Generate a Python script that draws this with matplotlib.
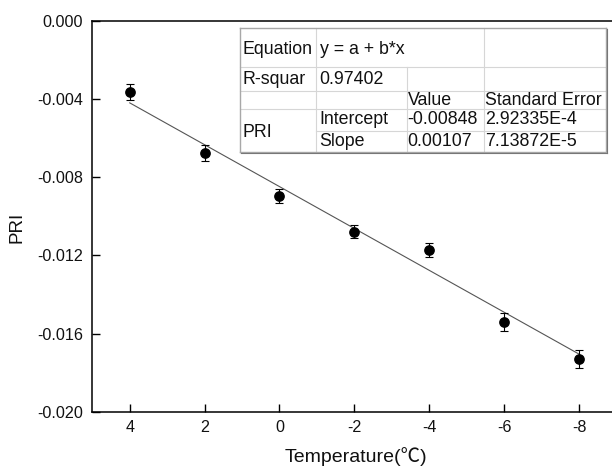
import numpy as np
import matplotlib
matplotlib.use("Agg")
import matplotlib.pyplot as plt
from matplotlib.lines import Line2D

# ---- data ----
temperature = [4, 2, 0, -2, -4, -6, -8]
pri = [-0.00364, -0.00677, -0.00896, -0.01078, -0.01171, -0.01539, -0.01727]
pri_err = [0.00041, 0.00041, 0.00036, 0.00034, 0.00036, 0.00045, 0.00046]
intercept = -0.00848
slope = 0.00107
x_ticks = [4, 2, 0, -2, -4, -6, -8]
y_ticks = [0.000, -0.004, -0.008, -0.012, -0.016, -0.020]

table_rows = [
    ["Equation", "y = a + b*x", "", ""],
    ["R-squar", "0.97402", "", ""],
    ["", "", "Value", "Standard Error"],
    ["PRI", "Intercept", "-0.00848", "2.92335E-4"],
    ["", "Slope", "0.00107", "7.13872E-5"],
]

plt.rcParams['font.family'] = ['Liberation Sans', 'DejaVu Sans']

W, H = 612, 469
fig = plt.figure(figsize=(W / 100, H / 100), dpi=100)

def fx(x):
    return x / W

def fy(y):
    return 1 - y / H

ax_left, ax_top, ax_bottom = 92.3, 20.7, 412.0
px_per_unit = 37.44
xmin, xmax = 5, -9
ax_w = (xmin - xmax) * px_per_unit
ax = fig.add_axes([fx(ax_left), fy(ax_bottom), ax_w / W, (ax_bottom - ax_top) / H])

ax.errorbar(temperature, pri, yerr=pri_err, fmt='o', color='black',
            markersize=6.7, ecolor='black', elinewidth=0.8, capsize=3,
            capthick=0.8, zorder=3)

xl = np.array([max(temperature), min(temperature)])
ax.plot(xl, intercept + slope * xl, color='#555555', lw=0.8, zorder=2)

ax.set_xlim(xmin, xmax)
ax.set_ylim(-0.020, 0.000)
ax.set_xticks(x_ticks)
ax.set_xticklabels([str(v) for v in x_ticks])
ax.set_yticks(y_ticks)
ax.set_yticklabels([f"{v:.3f}" for v in y_ticks])
ax.tick_params(axis='both', direction='in', length=6, width=1.0, labelsize=11.6,
               labelcolor='#111111')
ax.tick_params(axis='y', pad=6.5)
ax.tick_params(axis='x', pad=5.5)
for s in ax.spines.values():
    s.set_linewidth(1.1)

fig.text(fx(17), fy(227), "PRI", rotation=90, ha='center', va='center', fontsize=13.6,
         color='#111111')
fig.text(fx(355.5), fy(457), "Temperature(℃)", ha='center', va='center',
         fontsize=14, color='#111111', family=['Liberation Sans', 'Noto Sans CJK SC'])

# ---- table ----
cols = [239.7, 316.3, 406.5, 483.5, 606.0]
rows = [28.3, 66.7, 90.7, 109.3, 131.0, 151.7]
inner = '#d6d6d6'

def hline(y, x0, x1, c=inner, lw=0.8):
    fig.add_artist(Line2D([fx(x0), fx(x1)], [fy(y), fy(y)], color=c, lw=lw))

def vline(x, y0, y1, c=inner, lw=0.8):
    fig.add_artist(Line2D([fx(x), fx(x)], [fy(y0), fy(y1)], color=c, lw=lw))

hline(rows[1], cols[0], cols[4])
hline(rows[2], cols[0], cols[4])
hline(rows[3], cols[0], cols[4])
hline(rows[4], cols[1], cols[4])
vline(cols[1], rows[0], rows[5])
vline(cols[2], rows[1], rows[5])
vline(cols[3], rows[0], rows[5])
# outer border
hline(rows[0], cols[0], cols[4], c='#a8a8a8', lw=1.0)
hline(rows[5], cols[0], cols[4], c='#a8a8a8', lw=1.0)
vline(cols[0], rows[0], rows[5], c='#a8a8a8', lw=1.0)
vline(cols[4], rows[0], rows[5], c='#a8a8a8', lw=1.0)
hline(rows[5] + 1.2, cols[0] + 1, cols[4] + 1.2, c='#777777', lw=0.8)
vline(cols[4] + 1.2, rows[0] + 1, rows[5] + 1.2, c='#777777', lw=0.8)

text_x = [243.0, 319.7, 407.5, 485.0]
row_cy = [49.0, 79.0, 100.8, 120.0, 141.5]
for r, row in enumerate(table_rows):
    for c, txt in enumerate(row):
        if not txt:
            continue
        y = row_cy[r]
        if r == 3 and c == 0:
            y = 132.5
        fig.text(fx(text_x[c]), fy(y), txt, ha='left', va='center', fontsize=12.8,
                 color='#111111')

fig.savefig("out.png", dpi=100)
